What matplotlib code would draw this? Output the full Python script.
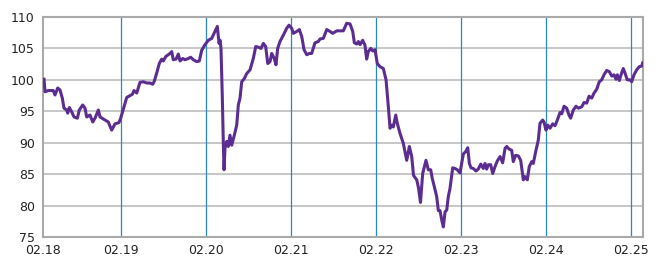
import matplotlib
matplotlib.use("Agg")
import matplotlib.pyplot as plt

# time in days since 02.18 00:00 (trading-time axis), and value
days = [0.100, 0.112, 0.151, 0.209, 0.229, 0.261, 0.288, 0.315, 0.335, 0.367,
        0.379, 0.398, 0.426, 0.453, 0.492, 0.515, 0.555, 0.582, 0.602, 0.641,
        0.673, 0.700, 0.739, 0.759, 0.818, 0.856, 0.896, 0.935, 0.982, 1.002,
        1.041, 1.073, 1.112, 1.139, 1.159, 1.191, 1.229, 1.268, 1.308, 1.347,
        1.379, 1.398, 1.426, 1.456, 1.485, 1.504, 1.532, 1.562, 1.582, 1.602,
        1.621, 1.653, 1.680, 1.700, 1.732, 1.759, 1.798, 1.826, 1.856, 1.896,
        1.927, 1.955, 1.994, 2.033, 2.073, 2.112, 2.139, 2.159, 2.171, 2.182,
        2.198, 2.209, 2.218, 2.229, 2.249, 2.268, 2.288, 2.308, 2.339, 2.367,
        2.386, 2.406, 2.426, 2.456, 2.485, 2.524, 2.562, 2.591, 2.621, 2.653,
        2.680, 2.708, 2.732, 2.759, 2.779, 2.809, 2.829, 2.849, 2.876, 2.915,
        2.955, 2.982, 3.014, 3.033, 3.073, 3.104, 3.132, 3.159, 3.191, 3.221,
        3.249, 3.288, 3.327, 3.347, 3.386, 3.426, 3.465, 3.496, 3.544, 3.582,
        3.621, 3.661, 3.700, 3.732, 3.751, 3.779, 3.798, 3.818, 3.849, 3.876,
        3.896, 3.915, 3.944, 3.967, 3.994, 4.021, 4.053, 4.092, 4.124, 4.151,
        4.171, 4.191, 4.209, 4.238, 4.256, 4.288, 4.327, 4.367, 4.398, 4.426,
        4.447, 4.485, 4.506, 4.529, 4.555, 4.594, 4.621, 4.649, 4.668, 4.692,
        4.720, 4.739, 4.759, 4.779, 4.798, 4.818, 4.838, 4.856, 4.876, 4.908,
        4.935, 4.962, 4.994, 5.014, 5.033, 5.061, 5.085, 5.104, 5.124, 5.151,
        5.182, 5.209, 5.238, 5.268, 5.288, 5.308, 5.327, 5.355, 5.379, 5.406,
        5.433, 5.465, 5.496, 5.524, 5.544, 5.571, 5.602, 5.621, 5.649, 5.680,
        5.708, 5.739, 5.759, 5.786, 5.809, 5.838, 5.856, 5.888, 5.915, 5.935,
        5.967, 5.982, 6.006, 6.026, 6.053, 6.085, 6.112, 6.139, 6.171, 6.191,
        6.218, 6.249, 6.276, 6.296, 6.327, 6.359, 6.386, 6.426, 6.453, 6.485,
        6.512, 6.544, 6.571, 6.602, 6.633, 6.661, 6.688, 6.720, 6.751, 6.779,
        6.806, 6.829, 6.845, 6.868, 6.896, 6.915, 6.935, 6.962, 6.994, 7.014,
        7.041, 7.073, 7.104, 7.132, 7.144]

values = [100.1, 98.1, 98.3, 98.3, 97.6, 98.7, 98.4, 97.1, 95.5, 95.2,
          94.7, 95.6, 94.9, 94.1, 93.9, 95.2, 96.0, 95.5, 94.1, 94.4,
          93.3, 93.9, 95.2, 94.1, 93.6, 93.3, 92.0, 93.0, 93.2, 93.9,
          95.7, 97.2, 97.5, 97.7, 98.3, 97.9, 99.6, 99.7, 99.5, 99.5,
          99.3, 99.8, 101.1, 102.6, 103.3, 103.0, 103.7, 104.0, 104.2, 104.5,
          103.2, 103.3, 104.1, 103.0, 103.4, 103.2, 103.4, 103.6, 103.2, 102.9,
          103.0, 104.7, 105.6, 106.3, 106.6, 107.7, 108.5, 105.8, 106.3, 105.0,
          97.1, 90.2, 85.7, 89.1, 90.2, 89.4, 91.2, 89.6, 91.2, 92.8,
          96.0, 97.1, 99.7, 100.2, 101.0, 101.6, 103.4, 105.3, 105.2, 105.0,
          105.8, 105.3, 102.6, 102.9, 104.2, 103.4, 102.4, 105.0, 106.1, 107.1,
          108.2, 108.7, 108.2, 107.4, 107.7, 108.0, 106.9, 104.8, 104.0, 104.2,
          104.2, 105.9, 106.1, 106.5, 106.6, 108.0, 107.7, 107.4, 107.8, 107.8,
          107.8, 109.0, 108.9, 107.7, 105.9, 105.7, 106.1, 105.6, 106.3, 105.5,
          103.3, 104.5, 105.0, 104.6, 104.8, 102.6, 102.1, 101.8, 100.0, 95.7,
          92.3, 92.8, 92.5, 94.4, 93.1, 91.5, 89.9, 87.2, 89.4, 87.8,
          84.8, 84.1, 82.8, 80.5, 85.1, 87.2, 85.7, 85.7, 84.3, 83.0,
          81.4, 79.2, 79.2, 77.7, 76.6, 79.0, 79.3, 81.4, 82.7, 86.0,
          85.9, 85.7, 85.2, 86.7, 88.2, 88.6, 89.2, 86.7, 86.0, 85.9,
          85.5, 85.8, 86.6, 85.9, 86.7, 85.8, 86.5, 86.5, 85.1, 86.2,
          87.1, 87.8, 86.8, 89.1, 89.4, 89.0, 88.8, 87.0, 88.0, 87.9,
          87.2, 84.1, 84.6, 84.1, 86.2, 87.0, 86.7, 88.8, 90.4, 93.1,
          93.6, 93.3, 92.0, 92.8, 92.3, 93.0, 92.7, 93.6, 94.8, 94.6,
          95.8, 95.5, 94.4, 93.9, 95.2, 95.8, 95.5, 95.7, 96.4, 96.3,
          97.4, 97.1, 97.9, 98.5, 99.7, 100.0, 100.8, 101.5, 101.3, 100.6,
          100.8, 100.1, 100.8, 99.9, 101.1, 101.8, 101.1, 100.0, 100.0, 99.7,
          100.8, 101.6, 102.1, 102.2, 102.7]

x_start = 0.088
x_end = 7.147
day_ticks = [x_start, 1, 2, 3, 4, 5, 6, 7]
day_labels = ["02.18", "02.19", "02.20", "02.21", "02.22", "02.23", "02.24", "02.25"]
y_ticks = [75, 80, 85, 90, 95, 100, 105, 110]

fig = plt.figure(figsize=(6.62, 2.56), dpi=100)
ax = fig.add_axes([43 / 662, 1 - 237 / 256, 600 / 662, 220 / 256])

for t in day_ticks[1:]:
    ax.axvline(t, color="#2b86c9", lw=0.9, zorder=1)
for v in y_ticks[1:-1]:
    ax.axhline(v, color="#bdbdbd", lw=1.2, zorder=0)

ax.plot(days, values, color="#5c2d91", lw=2.2, zorder=3)

ax.set_xlim(x_start, x_end)
ax.set_ylim(75, 110)
ax.set_xticks(day_ticks)
ax.set_xticklabels(day_labels)
ax.set_yticks(y_ticks)
ax.tick_params(length=0, labelsize=9, colors="#222222")
ax.tick_params(axis="x", pad=5)
ax.tick_params(axis="y", pad=6)
for s in ax.spines.values():
    s.set_color("#aaaaaa")
    s.set_linewidth(1.5)

fig.savefig("out.png", dpi=100)
